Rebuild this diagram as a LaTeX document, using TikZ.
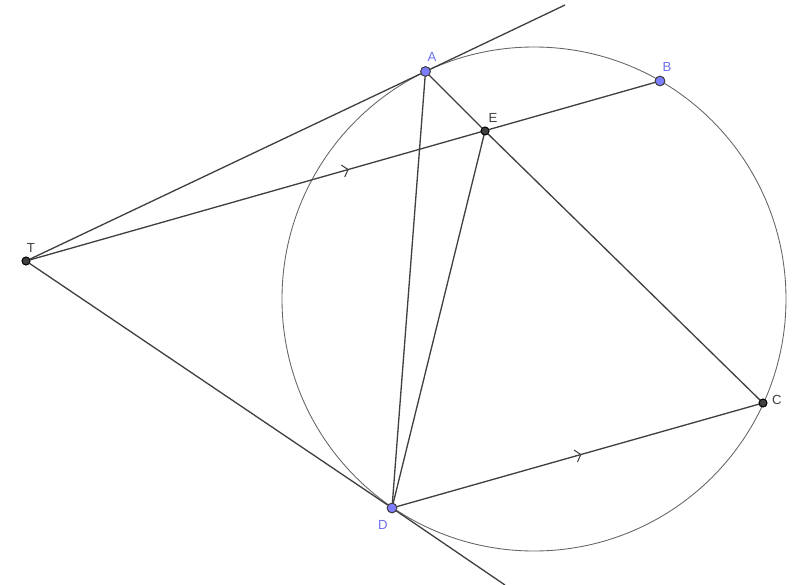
\documentclass[tikz,border=0pt]{standalone}
\usepackage{fontspec}
\setmainfont{Liberation Sans}
\usetikzlibrary{arrows.meta,decorations.markings}
\definecolor{ptblue}{RGB}{125,125,255}
\definecolor{lblblue}{RGB}{110,110,240}
\definecolor{ptdark}{RGB}{64,64,64}
\definecolor{ln}{RGB}{64,64,64}
\tikzset{
    seg/.style={draw=ln, line width=0.75pt},
    par/.style={seg, postaction={decorate}, decoration={markings,
        mark=at position 0.51 with {\arrow[ln, line width=0.6pt]{Straight Barb[length=3pt, width=7pt]}}}},
    freept/.style={circle, draw=ln, fill=ptblue, line width=0.5pt, inner sep=0pt, minimum size=5.5pt},
    fixpt/.style={circle, draw=black, fill=ptdark, line width=0.5pt, inner sep=0pt, minimum size=4.5pt},
    lbl/.style={font=\fontsize{7.5}{8}\selectfont, text=ptdark, inner sep=1pt},
}
\begin{document}
\begin{tikzpicture}[x=0.02cm, y=-0.02cm]
    \useasboundingbox (0, 0) rectangle (799, 585);
    % Circle
    \draw [gray!80!black, line width=0.5pt] (534, 299) circle (252);
    % Points
    \node [freept] (A) at (425.5, 71.5) {};
    \node [freept] (B) at (660, 81) {};
    \node [fixpt] (E) at (485, 131) {};
    \node [fixpt] (T) at (26, 261) {};
    \node [fixpt] (C) at (763, 403) {};
    \node [freept] (D) at (392, 508) {};
    \coordinate (tA) at (565, 5);
    \coordinate (tD) at (505, 585);
    % Tangents
    \draw [seg] (T) -- (A) -- (tA);
    \draw [seg] (T) -- (D) -- (tD);
    % Chords
    \draw [par] (T) -- (B);
    \draw [par] (D) -- (C);
    \draw [seg] (A) -- (D);
    \draw [seg] (A) -- (E) -- (C);
    \draw [seg] (E) -- (D);
    % Redraw points on top
    \foreach \p in {A, B, D} \node [freept] at (\p) {};
    \foreach \p in {E, T, C} \node [fixpt] at (\p) {};
    % Labels
    \node [lbl, text=lblblue] at (432, 57) {A};
    \node [lbl, text=lblblue] at (667, 67) {B};
    \node [lbl] at (493, 118) {E};
    \node [lbl] at (31, 248) {T};
    \node [lbl] at (777, 400) {C};
    \node [lbl, text=lblblue] at (383, 525) {D};
\end{tikzpicture}
\end{document}
